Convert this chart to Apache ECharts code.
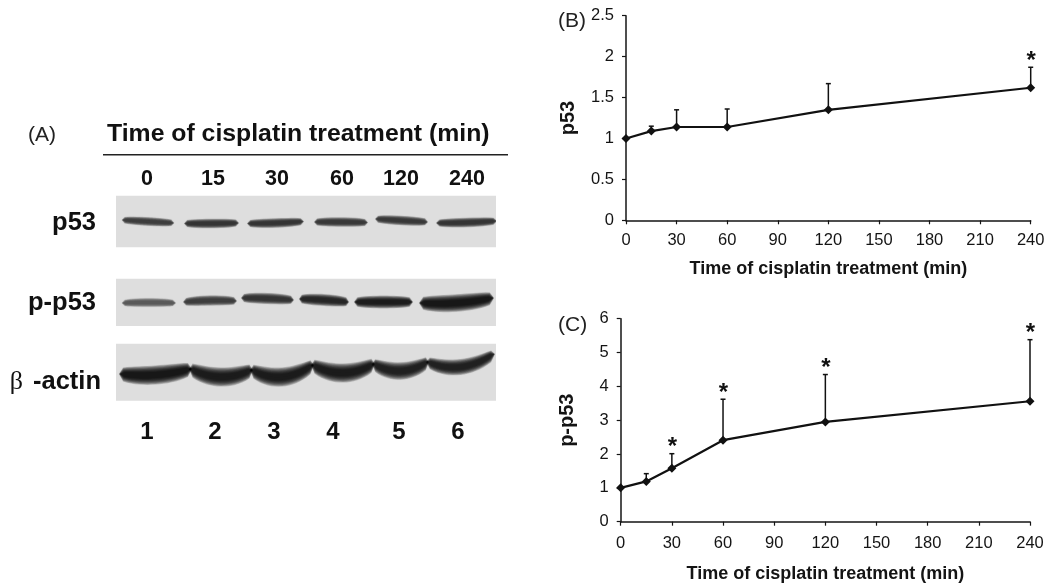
<!DOCTYPE html>
<html><head><meta charset="utf-8">
<style>html,body{margin:0;padding:0;background:#fff}#c{width:1050px;height:585px;filter:blur(0.45px)}</style>
<script src="https://cdn.jsdelivr.net/npm/echarts@6/dist/echarts.min.js"></script>
</head><body><div id="c"></div>
<script>
const minutes = [0, 15, 30, 60, 120, 240];
const p53Mean = [1, 1.09, 1.14, 1.14, 1.35, 1.62];
const p53Upper = [1, 1.15, 1.35, 1.36, 1.67, 1.87];
const p53Star = [0, 0, 0, 0, 0, 1];
const pp53Mean = [1, 1.19, 1.58, 2.41, 2.95, 3.56];
const pp53Upper = [1, 1.42, 2.01, 3.62, 4.35, 5.38];
const pp53Star = [0, 0, 1, 1, 1, 1];
const timeLabels = ['0', '15', '30', '60', '120', '240'];
const laneLabels = ['1', '2', '3', '4', '5', '6'];
const timeLabelAt = [31, 97, 161, 226, 285, 351];
const laneLabelAt = [31, 99, 158, 217, 283, 342];
const panelSpans = [[5.7, 57.3], [88.7, 136], [153.7, 210.7]];
// band rows: gel start, gel end, migration left / middle / right, thickness, density
const p53Bands = [
  [6.7, 57.3, 30, 31.5, 33, 5.5, 0.72],
  [69, 122, 33.5, 33.5, 33, 6, 0.78],
  [132, 187, 33.5, 33, 31.5, 6, 0.8],
  [199, 251, 32, 32, 32.5, 6, 0.76],
  [260, 311, 29, 30.5, 32, 6, 0.76],
  [321, 380, 33, 32.5, 31, 6, 0.8]
];
const pp53Bands = [
  [6.7, 59, 113, 112.5, 113, 5.5, 0.56],
  [68, 120, 112, 110.5, 111, 6.5, 0.72],
  [126, 177, 108, 108.5, 110, 7, 0.8],
  [184, 232, 109, 110, 112, 7.5, 0.88],
  [239, 296, 112, 112, 112, 8, 0.96],
  [304, 377, 113, 113, 108, 11, 1]
];
const actinBands = [
  [4, 75, 184, 185, 179, 12, 1],
  [74, 136, 179, 187, 180, 12, 0.98],
  [135, 197, 180, 187, 175, 12, 0.98],
  [196, 258, 175, 183, 174, 12, 0.98],
  [257, 312, 174, 181, 172, 11, 0.94],
  [311, 378, 172, 177, 164, 10, 0.92]
];
const FONT = 'Liberation Sans';
const INK = '#141414';
const TITLE = 'Time of cisplatin treatment (min)';

function bandShape(api, r) {
  const [x0, x1, yl, ym, yr, th, d] = r;
  const g = Math.round(170 * (1 - d));
  const layer = (k, alpha) => {
    const top = [], bot = [];
    const n = 18;
    const shrink = (1.6 - k) * 1.2;
    for (let i = 0; i <= n; i++) {
      const t = i / n, x = x0 - 1 + shrink + (x1 - x0 + 2 - 2 * shrink) * t;
      const y = yl * (1 - t) * (1 - 2 * t) + ym * 4 * t * (1 - t) + yr * t * (2 * t - 1);
      const h = k * th / 2 * Math.pow(Math.sin(Math.PI * t), 0.18);
      top.push(api.coord([x, y - h]));
      bot.unshift(api.coord([x, y + h]));
    }
    return {
      type: 'polygon', shape: {points: top.concat(bot)},
      style: {fill: `rgba(${g},${g},${g},${alpha})`, shadowBlur: 2.5, shadowColor: `rgba(${g},${g},${g},${alpha})`}
    };
  };
  const kids = [];
  for (let j = 0; j < 10; j++) kids.push(layer(1.6 - j * 0.12, 0.17));
  return {type: 'group', children: kids};
}
function rowsOf(list) { return list.map(r => r.slice()); }
function errSeries(xi, yi, up, mean, star) {
  return {
    type: 'custom', xAxisIndex: xi, yAxisIndex: yi, z: 3, silent: true,
    data: minutes.map((m, i) => [m, mean[i], up[i], star[i]]),
    renderItem(p, api) {
      const a = api.coord([api.value(0), api.value(1)]);
      const b = api.coord([api.value(0), api.value(2)]);
      const kids = [];
      const st = {stroke: '#111', lineWidth: 1.5};
      if (api.value(2) > api.value(1)) {
        kids.push({type: 'line', shape: {x1: a[0], y1: a[1], x2: b[0], y2: b[1]}, style: st});
        kids.push({type: 'line', shape: {x1: b[0] - 2.5, y1: b[1], x2: b[0] + 2.5, y2: b[1]}, style: st});
      }
      if (api.value(3)) kids.push({type: 'text', x: b[0] + 0.5, y: b[1] - 18,
        style: {text: '*', font: `bold 24px "${FONT}"`, fill: '#111', textAlign: 'center', textVerticalAlign: 'top'}});
      return {type: 'group', children: kids};
    }
  };
}
function lineSeries(xi, yi, mean) {
  return {type: 'line', xAxisIndex: xi, yAxisIndex: yi, z: 4, silent: true,
    data: minutes.map((m, i) => [m, mean[i]]), symbol: 'diamond', symbolSize: 9, showSymbol: true,
    lineStyle: {color: '#111', width: 2.2}, itemStyle: {color: '#111'}};
}
function xAxis(gi, gap, margin) {
  return {gridIndex: gi, type: 'value', min: 0, max: 240, interval: 30, name: TITLE, nameLocation: 'middle', nameGap: gap,
    nameTextStyle: {fontFamily: FONT, fontWeight: 'bold', fontSize: 18, color: INK},
    axisLine: {onZero: false, lineStyle: {color: INK, width: 1.5}},
    axisTick: {length: 4, lineStyle: {color: INK, width: 1.2}},
    axisLabel: {fontFamily: FONT, fontSize: 16.5, color: INK, margin, showMinLabel: true, showMaxLabel: true},
    splitLine: {show: false}};
}
function yAxis(gi, name, max, step, gap) {
  return {gridIndex: gi, type: 'value', min: 0, max, interval: step, name, nameLocation: 'middle', nameGap: gap,
    nameTextStyle: {fontFamily: FONT, fontWeight: 'bold', fontSize: 20, color: INK},
    axisLine: {show: true, onZero: false, lineStyle: {color: INK, width: 1.5}},
    axisTick: {show: true, length: 4, lineStyle: {color: INK, width: 1.2}},
    axisLabel: {fontFamily: FONT, fontSize: 16.5, color: INK, margin: 12, showMinLabel: true, showMaxLabel: true},
    splitLine: {show: false}};
}
function gelText(labels, at, y, size) {
  return {type: 'custom', xAxisIndex: 0, yAxisIndex: 0, z: 5, silent: true, clip: false,
    data: labels.map((l, i) => [at[i], y, l]),
    renderItem(p, api) {
      const c = api.coord([api.value(0), api.value(1)]);
      return {type: 'text', x: c[0], y: c[1], style: {text: labels[p.dataIndex], font: `bold ${size}px "${FONT}"`, fill: '#111', textAlign: 'center', textVerticalAlign: 'middle'}};
    }};
}
function gelBands(rows, z) {
  return {type: 'custom', xAxisIndex: 0, yAxisIndex: 0, z, silent: true, clip: true,
    data: rowsOf(rows),
    renderItem(p, api) { return bandShape(api, rows[p.dataIndex]); }};
}
const text = (left, cy, t, size, weight, extra) => Object.assign({type: 'text', x: left, y: cy,
  style: Object.assign({text: t, font: `${weight} ${size}px "${FONT}"`, fill: '#111', textVerticalAlign: 'middle'}, extra || {})});

const chart = echarts.init(document.getElementById('c'), null, {renderer: 'canvas'});
chart.setOption({
  animation: false, backgroundColor: '#fff',
  grid: [
    {left: 116, top: 140, width: 380, height: 300},
    {left: 626, top: 15.7, width: 404.7, height: 204.6},
    {left: 620.7, top: 318.7, width: 409.3, height: 203}
  ],
  xAxis: [
    {gridIndex: 0, type: 'value', min: 0, max: 380, show: false},
    xAxis(1, 40, 12), xAxis(2, 43, 13.5)
  ],
  yAxis: [
    {gridIndex: 0, type: 'value', min: -50, max: 250, inverse: true, show: false},
    yAxis(1, 'p53', 2.5, 0.5, 48), yAxis(2, 'p-p53', 6, 1, 43)
  ],
  graphic: [
    text(28, 135, '(A)', 21, 'normal', {fill: '#222'}),
    text(558, 21, '(B)', 21, 'normal', {fill: '#222'}),
    text(558, 325, '(C)', 21, 'normal', {fill: '#222'}),
    text(107, 134, TITLE, 24.8, 'bold'),
    {type: 'line', shape: {x1: 103, y1: 154.7, x2: 508, y2: 154.7}, style: {stroke: '#222', lineWidth: 1.4}},
    text(96, 223, 'p53', 25.5, 'bold', {textAlign: 'right'}),
    text(96, 303, 'p-p53', 25.5, 'bold', {textAlign: 'right'}),
    {type: 'text', x: 101, y: 382, style: {
      text: '{b|β}   {a|-actin}', textAlign: 'right', textVerticalAlign: 'middle',
      rich: {a: {font: `bold 25.5px "${FONT}"`, fill: '#111'}, b: {font: '26px "Liberation Serif"', fill: '#111'}}
    }}
  ],
  series: [
    {type: 'custom', xAxisIndex: 0, yAxisIndex: 0, z: 1, silent: true, clip: false,
      data: panelSpans.map(s => s.slice()),
      renderItem(p, api) {
        const a = api.coord([0, api.value(0)]), b = api.coord([380, api.value(1)]);
        return {type: 'rect', shape: {x: a[0], y: a[1], width: b[0] - a[0], height: b[1] - a[1]}, style: {fill: '#dedede'}};
      }},
    gelBands(p53Bands, 2), gelBands(pp53Bands, 2), gelBands(actinBands, 2),
    gelText(timeLabels, timeLabelAt, -11.4, 21.5),
    gelText(laneLabels, laneLabelAt, 242, 24),
    errSeries(1, 1, p53Upper, p53Mean, p53Star), lineSeries(1, 1, p53Mean),
    errSeries(2, 2, pp53Upper, pp53Mean, pp53Star), lineSeries(2, 2, pp53Mean)
  ]
});
</script></body></html>
